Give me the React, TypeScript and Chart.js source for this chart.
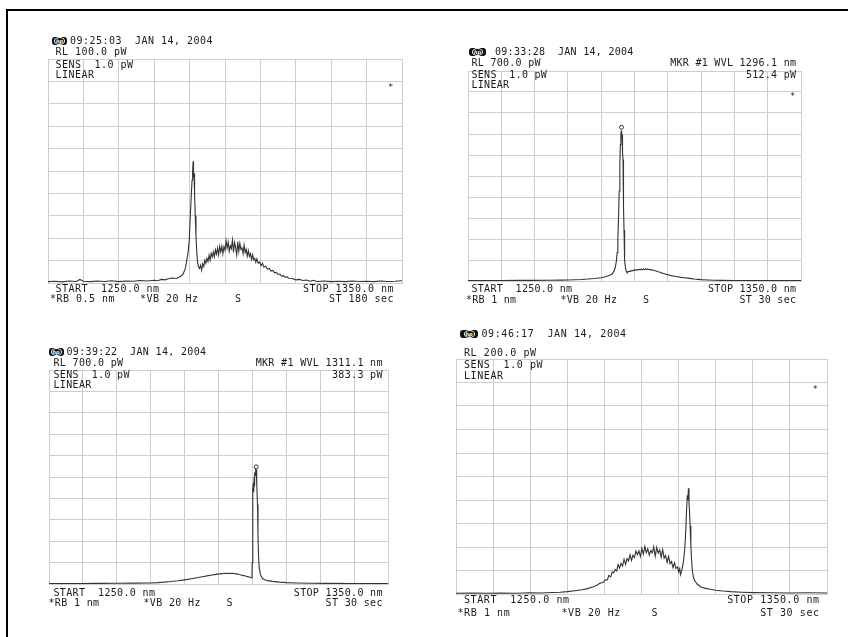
import React, { useEffect, useRef } from "react";
import { Chart, registerables } from "chart.js";

Chart.register(...registerables);

// Panel A (09:25:03) RL 100 pW
const WL_A = [
  1250, 1252, 1254, 1256, 1258, 1259, 1260, 1262, 1264, 1266,
  1268, 1270, 1272, 1274, 1276, 1278, 1280, 1281, 1282, 1283,
  1284, 1285, 1286.3, 1287.5, 1288.2, 1288.8, 1289.2, 1289.6, 1289.9, 1290.2,
  1290.5, 1290.7, 1290.85, 1291.0, 1291.1, 1291.25, 1291.4, 1291.6, 1291.8, 1292.0,
  1292.2, 1292.5, 1292.8, 1293.1, 1293.4, 1293.7, 1294.0, 1294.3, 1294.6, 1294.9,
  1295.2, 1295.5, 1295.8, 1296.1, 1296.4, 1296.7, 1297.0, 1297.3, 1297.6, 1297.9,
  1298.2, 1298.5, 1298.8, 1299.1, 1299.4, 1299.7, 1300.0, 1300.3, 1300.6, 1300.9,
  1301.2, 1301.5, 1301.8, 1302.1, 1302.4, 1302.7, 1303.0, 1303.3, 1303.6, 1303.9,
  1304.2, 1304.5, 1304.8, 1305.1, 1305.4, 1305.7, 1306.0, 1306.3, 1306.6, 1306.9,
  1307.2, 1307.5, 1307.8, 1308.1, 1308.4, 1308.7, 1309.0, 1309.4, 1309.8, 1310.2,
  1310.6, 1311.0, 1311.5, 1312.0, 1312.5, 1313.0, 1313.5, 1314.0, 1314.5, 1315.0,
  1315.5, 1316.0, 1316.5, 1317.0, 1317.5, 1318, 1319, 1320, 1321, 1322,
  1323, 1324, 1325, 1326, 1328, 1330, 1332, 1334, 1336, 1338,
  1340, 1342, 1344, 1346, 1348, 1350,
];
const PW_A = [
  0.6, 0.8, 0.5, 0.9, 0.7, 1.6, 0.8, 0.6, 0.9, 0.7,
  1.0, 0.6, 0.9, 0.8, 1.1, 0.9, 1.2, 1.0, 1.6, 1.4,
  1.9, 2.2, 2.0, 3.0, 4.2, 6.5, 10, 14, 19, 30,
  40, 46, 50, 54.3, 47, 49, 40, 30, 21, 14.6,
  10, 7.2, 6.5, 8.0, 5.7, 8.6, 7.4, 10.2, 8.8, 11.0,
  9.6, 12.4, 10.2, 13.2, 11.6, 13.9, 11.7, 14.8, 12.9, 15.6,
  12.6, 16.3, 13.9, 16.4, 13.1, 16.2, 14.6, 18.9, 15.6, 18.3,
  14.2, 16.6, 15.3, 19.2, 13.8, 18.2, 15.9, 12.6, 18.4, 14.1,
  17.8, 15.0, 15.7, 13.2, 16.9, 13.6, 15.0, 12.0, 14.4, 11.9,
  13.1, 10.5, 12.6, 10.4, 11.0, 9.2, 10.8, 8.9, 9.3, 7.7,
  8.8, 7.1, 7.5, 6.2, 6.5, 5.3, 5.6, 4.5, 4.7, 3.8,
  4.0, 3.1, 3.3, 2.6, 2.8, 2.1, 2.0, 1.4, 1.6, 1.1,
  1.3, 0.8, 1.2, 0.7, 0.9, 0.6, 0.8, 0.6, 0.9, 0.7,
  0.8, 0.6, 0.9, 0.7, 0.8, 1.0,
];

// Panel B (09:33:28) RL 700 pW
const WL_B = [
  1250, 1255, 1260, 1265, 1270, 1274, 1278, 1280, 1282, 1284,
  1286, 1288, 1290, 1291.5, 1292.6, 1293.3, 1293.8, 1294.2, 1294.5, 1294.8,
  1295.0, 1295.2, 1295.4, 1295.6, 1295.75, 1295.9, 1296.0, 1296.1, 1296.2, 1296.3,
  1296.35, 1296.45, 1296.55, 1296.65, 1296.75, 1296.85, 1296.95, 1297.1, 1297.3, 1297.5,
  1297.7, 1297.9, 1298.2, 1298.5, 1298.8, 1299.1, 1299.4, 1299.7, 1300.0, 1300.3,
  1300.6, 1300.9, 1301.2, 1301.5, 1301.8, 1302.1, 1302.4, 1302.7, 1303.0, 1303.3,
  1303.6, 1303.9, 1304.2, 1304.5, 1304.8, 1305.1, 1305.4, 1305.8, 1306.2, 1306.6,
  1307.0, 1307.5, 1308, 1308.5, 1309, 1309.5, 1310, 1311, 1312, 1313,
  1314, 1315, 1316, 1317, 1318, 1319, 1320, 1322, 1324, 1326,
  1330, 1335, 1340, 1345, 1350,
];
const PW_B = [
  1.5, 1.8, 1.6, 2.0, 2.2, 2.6, 3.0, 3.4, 4.2, 5.0,
  6.5, 8.5, 11, 15, 19, 24, 32, 44, 62, 95,
  140, 210, 300, 390, 455, 490, 498, 500, 492, 470,
  488, 430, 405, 330, 250, 170, 110, 68, 44, 33,
  29, 31, 30, 33, 32, 35, 34, 36, 35, 38,
  36, 38, 37, 39, 37, 40, 38, 40, 38, 41,
  38, 40, 38, 39, 37, 38, 36, 36, 34, 33,
  31, 30, 27, 26, 24, 22, 21, 18, 16, 14,
  12, 11, 9.5, 8, 6.5, 5.5, 4.5, 3.3, 2.5, 2.0,
  1.6, 1.5, 1.4, 1.5, 1.4,
];
const MARKER_B = { wl: 1296.1, pw: 512.4 };

// Panel C (09:39:22) RL 700 pW
const WL_C = [
  1250, 1255, 1260, 1265, 1270, 1275, 1280, 1282, 1284, 1286,
  1288, 1290, 1292, 1294, 1295.6, 1297, 1297.5, 1298, 1298.5, 1299,
  1299.5, 1300, 1300.5, 1301, 1301.5, 1302, 1302.5, 1303, 1303.5, 1304,
  1304.5, 1305, 1305.5, 1306, 1306.5, 1307, 1307.5, 1308, 1308.5, 1309,
  1309.5, 1309.85, 1309.95, 1310.05, 1310.15, 1310.3, 1310.4, 1310.5, 1310.6, 1310.7,
  1310.8, 1310.9, 1311.0, 1311.1, 1311.2, 1311.35, 1311.5, 1311.65, 1311.8, 1312.0,
  1312.3, 1312.6, 1313, 1313.6, 1314.5, 1316, 1318, 1320, 1323, 1327,
  1332, 1340, 1350,
];
const PW_C = [
  1.5, 1.6, 1.8, 2.0, 2.3, 2.8, 3.5, 4.5, 6.0, 8.0,
  10.5, 13.5, 17, 21, 24.5, 27.5, 28.5, 29, 31, 30.5,
  33, 32, 34, 33, 35, 34, 36, 34, 35, 34.5,
  35, 33, 33, 31, 30.5, 28, 27.5, 26, 24, 23,
  21, 20, 70, 200, 310, 330, 300, 350, 320, 365,
  355, 372, 376, 374, 366, 330, 260, 160, 95, 55,
  35, 25, 18, 14, 11, 8.6, 6.0, 4.5, 3.2, 2.3,
  2.0, 1.8, 1.7,
];
const MARKER_C = { wl: 1311.1, pw: 383.3 };

// Panel D (09:46:17) RL 200 pW
const WL_D = [
  1250, 1254, 1258, 1262, 1266, 1270, 1273, 1276, 1278, 1280,
  1282, 1284, 1285.5, 1287, 1288, 1289, 1289.6, 1290.2, 1290.8, 1291.2,
  1291.7, 1292.1, 1292.5, 1292.9, 1293.3, 1293.7, 1294.1, 1294.5, 1294.9, 1295.3,
  1295.7, 1296.1, 1296.5, 1296.9, 1297.3, 1297.7, 1298.1, 1298.5, 1298.9, 1299.3,
  1299.7, 1300.1, 1300.5, 1300.9, 1301.3, 1301.7, 1302.1, 1302.5, 1302.9, 1303.3,
  1303.7, 1304.1, 1304.5, 1304.9, 1305.3, 1305.7, 1306.1, 1306.5, 1306.9, 1307.3,
  1307.7, 1308.1, 1308.5, 1308.9, 1309.3, 1309.7, 1310.0, 1310.3, 1310.5, 1310.8,
  1311.1, 1311.4, 1311.7, 1311.95, 1312.15, 1312.35, 1312.5, 1312.65, 1312.8, 1312.95,
  1313.1, 1313.3, 1313.5, 1313.7, 1314.0, 1314.4, 1315, 1316, 1317, 1318.5,
  1320, 1322, 1324, 1327, 1330, 1335, 1340, 1345, 1350,
];
const PW_D = [
  0.6, 0.8, 0.6, 0.9, 0.7, 1.0, 0.9, 1.3, 1.5, 2.0,
  2.8, 3.6, 4.6, 6.2, 7.4, 9.5, 9.8, 12.0, 11.9, 15.8,
  14.6, 18.8, 17.9, 20.8, 19.6, 25.1, 22.2, 26.1, 23.9, 29.6,
  25.2, 30.1, 28.2, 33.4, 28.6, 33.0, 31.2, 36.6, 33.4, 36.8,
  31.9, 38.9, 33.8, 40.5, 35.2, 38.4, 33.1, 37.0, 35.0, 40.1,
  32.1, 39.6, 34.8, 37.6, 31.4, 37.9, 30.6, 32.8, 27.0, 31.9,
  25.8, 27.6, 22.4, 26.6, 21.8, 23.0, 18.9, 21.6, 16.4, 19.5,
  24, 30, 40, 55, 72, 84, 80, 90, 78, 70,
  58, 42, 29, 20, 14, 11, 8.5, 6, 5, 4,
  3.2, 2.5, 2.0, 1.5, 1.2, 1.0, 0.9, 1.0, 0.8,
];

const WL_START = 1250;
const WL_STOP = 1350;

type Box = { left: number; top: number; w: number; h: number };

const PAD = 3;
const GRID = "#cdcdcd";
const TRACE = "#333333";

function Trace(props: {
  wl: number[];
  pw: number[];
  rl: number;
  box: Box;
  marker?: { wl: number; pw: number };
}) {
  const ref = useRef<HTMLCanvasElement | null>(null);
  useEffect(() => {
    if (!ref.current) return;
    const pts = props.wl.map((x, i) => ({ x, y: props.pw[i] }));
    const datasets: any[] = [
      {
        data: pts,
        borderColor: TRACE,
        borderWidth: 1.1,
        pointRadius: 0,
        tension: 0,
        fill: false,
      },
    ];
    if (props.marker) {
      datasets.push({
        data: [{ x: props.marker.wl, y: props.marker.pw }],
        showLine: false,
        pointRadius: 2,
        pointBorderWidth: 1,
        pointBackgroundColor: "#ffffff",
        pointBorderColor: TRACE,
      });
    }
    const chart = new Chart(ref.current, {
      type: "line",
      data: { datasets },
      options: {
        animation: false,
        responsive: false,
        maintainAspectRatio: false,
        events: [],
        layout: { padding: { left: PAD, top: PAD, right: PAD, bottom: PAD } },
        plugins: { legend: { display: false }, tooltip: { enabled: false } },
        scales: {
          x: {
            type: "linear",
            min: WL_START,
            max: WL_STOP,
            ticks: { display: false, stepSize: 10 },
            grid: { color: GRID, lineWidth: 1, drawTicks: false },
            border: { display: true, color: GRID },
            afterFit: (s: any) => {
              s.height = 0;
            },
          },
          y: {
            type: "linear",
            min: 0,
            max: props.rl,
            ticks: { display: false, stepSize: props.rl / 10 },
            grid: { color: GRID, lineWidth: 1, drawTicks: false },
            border: { display: true, color: GRID },
            afterFit: (s: any) => {
              s.width = 0;
            },
          },
        },
      } as any,
    });
    return () => chart.destroy();
  }, []);
  const { left, top, w, h } = props.box;
  return (
    <canvas
      ref={ref}
      width={w + 2 * PAD}
      height={h + 2 * PAD}
      style={{
        position: "absolute",
        left: left - PAD,
        top: top - PAD,
        width: w + 2 * PAD,
        height: h + 2 * PAD,
      }}
    />
  );
}

function T(props: {
  x: number;
  y: number;
  s: string;
  ls: number;
  right?: boolean;
  size?: number;
}) {
  const style: React.CSSProperties = {
    position: "absolute",
    top: props.y - 1.2,
    fontFamily: "'DejaVu Sans Mono', monospace",
    fontSize: props.size || 10,
    lineHeight: "10px",
    letterSpacing: props.ls,
    whiteSpace: "pre",
    color: "#1a1a1a",
  };
  if (props.right) style.right = 848 - props.x - props.ls;
  else style.left = props.x;
  return <div style={style}>{props.s}</div>;
}

function Logo(props: { x: number; y: number; w: number }) {
  return (
    <div
      style={{
        position: "absolute",
        left: props.x,
        top: props.y,
        width: props.w,
        height: 8,
        background: "#111",
        borderRadius: 3,
        display: "flex",
        alignItems: "center",
        justifyContent: "center",
      }}
    >
      <div
        style={{
          width: 9,
          height: 6,
          border: "1px solid #fff",
          borderRadius: "50%",
          color: "#fff",
          fontFamily: "'DejaVu Sans', sans-serif",
          fontStyle: "italic",
          fontWeight: "bold",
          fontSize: 5,
          lineHeight: "6px",
          textAlign: "center",
        }}
      >
        hp
      </div>
    </div>
  );
}

const BOX_A: Box = { left: 48, top: 59, w: 354, h: 224 };
const BOX_B: Box = { left: 466, top: 69, w: 337, h: 214 };
const BOX_C: Box = { left: 47, top: 368, w: 343, h: 218 };
const BOX_D: Box = { left: 456, top: 359, w: 371, h: 235 };

export default function App() {
  const la = 0.48;
  const lb = 0.28;
  const lc = 0.34;
  const ld = 0.58;
  return (
    <div
      style={{
        position: "absolute",
        left: 0,
        top: 0,
        width: 848,
        height: 637,
        background: "#fff",
        overflow: "hidden",
      }}
    >
      <div
        style={{
          position: "absolute",
          left: 6,
          top: 9,
          width: 848,
          height: 637,
          borderLeft: "2px solid #000",
          borderTop: "2px solid #000",
        }}
      />

      {/* Panel A */}
      <Trace wl={WL_A} pw={PW_A} rl={100} box={BOX_A} />
      <Logo x={52} y={36.5} w={15} />
      <T x={70} y={37} s="09:25:03  JAN 14, 2004" ls={la} />
      <T x={55.5} y={48.5} s="RL 100.0 pW" ls={la} />
      <T x={55.5} y={61} s="SENS  1.0 pW" ls={la} />
      <T x={55.5} y={71} s="LINEAR" ls={la} />
      <T x={388} y={83} s="*" ls={0} size={9} />
      <T x={55.5} y={285} s="START  1250.0 nm" ls={la} />
      <T x={393.5} y={285} s="STOP 1350.0 nm" ls={la} right />
      <T x={50} y={295.5} s="*RB 0.5 nm" ls={la} />
      <T x={140} y={295.5} s="*VB 20 Hz" ls={la} />
      <T x={235} y={295.5} s="S" ls={la} />
      <T x={393.5} y={295.5} s="ST 180 sec" ls={la} right />

      {/* Panel B */}
      <Trace wl={WL_B} pw={PW_B} rl={700} box={BOX_B} marker={MARKER_B} />
      <Logo x={469} y={48} w={17} />
      <T x={495} y={48.5} s="09:33:28  JAN 14, 2004" ls={lb} />
      <T x={471.5} y={59.5} s="RL 700.0 pW" ls={lb} />
      <T x={796} y={59.5} s="MKR #1 WVL 1296.1 nm" ls={lb} right />
      <T x={471.5} y={71} s="SENS  1.0 pW" ls={lb} />
      <T x={796} y={71} s="512.4 pW" ls={lb} right />
      <T x={471.5} y={81} s="LINEAR" ls={lb} />
      <T x={790} y={92} s="*" ls={0} size={9} />
      <T x={471.5} y={285} s="START  1250.0 nm" ls={lb} />
      <T x={796} y={285} s="STOP 1350.0 nm" ls={lb} right />
      <T x={466} y={296} s="*RB 1 nm" ls={lb} />
      <T x={560.5} y={296} s="*VB 20 Hz" ls={lb} />
      <T x={643} y={296} s="S" ls={lb} />
      <T x={796} y={296} s="ST 30 sec" ls={lb} right />

      {/* Panel C */}
      <Trace wl={WL_C} pw={PW_C} rl={700} box={BOX_C} marker={MARKER_C} />
      <Logo x={48.5} y={348} w={15} />
      <T x={66.5} y={348.5} s="09:39:22  JAN 14, 2004" ls={lc} />
      <T x={53.5} y={359.5} s="RL 700.0 pW" ls={lc} />
      <T x={382.5} y={359.5} s="MKR #1 WVL 1311.1 nm" ls={lc} right />
      <T x={53.5} y={371} s="SENS  1.0 pW" ls={lc} />
      <T x={382.5} y={371} s="383.3 pW" ls={lc} right />
      <T x={53.5} y={381} s="LINEAR" ls={lc} />
      <T x={53.5} y={589.5} s="START  1250.0 nm" ls={lc} />
      <T x={382.5} y={589.5} s="STOP 1350.0 nm" ls={lc} right />
      <T x={48.5} y={599.5} s="*RB 1 nm" ls={lc} />
      <T x={143.5} y={599.5} s="*VB 20 Hz" ls={lc} />
      <T x={226.5} y={599.5} s="S" ls={lc} />
      <T x={382.5} y={599.5} s="ST 30 sec" ls={lc} right />

      {/* Panel D */}
      <Trace wl={WL_D} pw={PW_D} rl={200} box={BOX_D} />
      <Logo x={460} y={330} w={18} />
      <T x={481.5} y={330} s="09:46:17  JAN 14, 2004" ls={ld} />
      <T x={464} y={349} s="RL 200.0 pW" ls={ld} />
      <T x={464} y={361} s="SENS  1.0 pW" ls={ld} />
      <T x={464} y={372} s="LINEAR" ls={ld} />
      <T x={812.5} y={385} s="*" ls={0} size={9} />
      <T x={464} y={596} s="START  1250.0 nm" ls={ld} />
      <T x={819} y={596} s="STOP 1350.0 nm" ls={ld} right />
      <T x={457.5} y={609.5} s="*RB 1 nm" ls={ld} />
      <T x={561.5} y={609.5} s="*VB 20 Hz" ls={ld} />
      <T x={651.5} y={609.5} s="S" ls={ld} />
      <T x={819} y={609.5} s="ST 30 sec" ls={ld} right />
    </div>
  );
}
